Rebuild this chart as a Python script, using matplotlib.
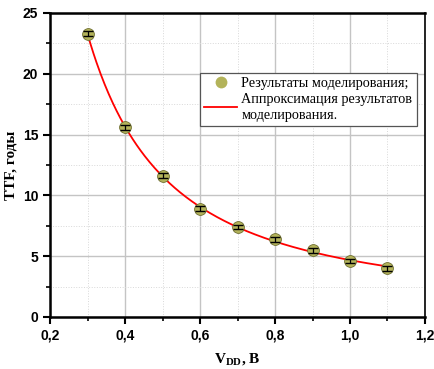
import numpy as np
import matplotlib
matplotlib.use('Agg')
import matplotlib.pyplot as plt
from matplotlib.ticker import MultipleLocator, FuncFormatter

# Simulation results: supply voltage (V) vs time to failure (years)
vdd = [0.3, 0.4, 0.5, 0.6, 0.7, 0.8, 0.9, 1.0, 1.1]
ttf = [23.3, 15.6, 11.6, 8.9, 7.4, 6.4, 5.5, 4.6, 4.0]
ttf_err = [0.2, 0.2, 0.2, 0.2, 0.2, 0.2, 0.2, 0.2, 0.2]

x = np.array(vdd)
y = np.array(ttf)

# Approximation y = c + a*x^(-b): b by grid search, c and a by least squares
best = None
for b in np.linspace(0.3, 3.0, 2000):
    M = np.column_stack([np.ones_like(x), x ** (-b)])
    coef, _, _, _ = np.linalg.lstsq(M, y, rcond=None)
    err = np.sum((M @ coef - y) ** 2)
    if best is None or err < best[0]:
        best = (err, b, coef)
_, b_fit, (c_fit, a_fit) = best
xf = np.linspace(x[0], x[-1], 300)
yf = c_fit + a_fit * xf ** (-b_fit)

fig = plt.figure(figsize=(4.35, 3.69), dpi=100)
ax = fig.add_axes([0.115, 0.141, 0.862, 0.824])

ax.plot(xf, yf, color='red', lw=1.3, zorder=3,
        label='Аппроксимация результатов\nмоделирования.')
ax.plot(x, y, 'o', ms=8.5, color='#b3b35a', mec='#6e6e30', mew=0.6, zorder=5,
        label='Результаты моделирования;')
ax.errorbar(x, y, yerr=ttf_err, fmt='none', ecolor='black', elinewidth=0.9,
            capsize=3.5, capthick=1.0, zorder=6)

ax.set_xlim(0.2, 1.2)
ax.set_ylim(0, 25)
ax.xaxis.set_major_locator(MultipleLocator(0.2))
ax.xaxis.set_minor_locator(MultipleLocator(0.1))
ax.yaxis.set_major_locator(MultipleLocator(5))
ax.yaxis.set_minor_locator(MultipleLocator(2.5))
ax.xaxis.set_major_formatter(FuncFormatter(lambda v, p: f'{v:.1f}'.replace('.', ',')))
ax.yaxis.set_major_formatter(FuncFormatter(lambda v, p: f'{v:.0f}'))

ax.grid(which='major', color='#c4c4c4', lw=1.0)
ax.grid(which='minor', color='#d8d8d8', lw=0.7, ls=':')
ax.set_axisbelow(True)

ax.tick_params(which='major', direction='out', length=5, width=1.5,
               labelsize=10, top=False, right=False)
ax.tick_params(which='minor', direction='out', length=3, width=1.2,
               top=False, right=False)
for lab in ax.get_xticklabels() + ax.get_yticklabels():
    lab.set_fontfamily('Liberation Sans')
    lab.set_fontweight('bold')

for side in ['left', 'bottom', 'top']:
    ax.spines[side].set_linewidth(1.8)
ax.spines['right'].set_linewidth(1.2)

ax.set_xlabel('V$_{\\mathregular{DD}}$, В', fontfamily='Liberation Serif',
              fontweight='bold', fontsize=11, labelpad=6)
ax.set_ylabel('TTF, годы', fontfamily='Liberation Serif',
              fontweight='bold', fontsize=11)
ax.yaxis.set_label_coords(-0.088, 0.5)

handles, labels = ax.get_legend_handles_labels()
order = [1, 0]
leg = ax.legend([handles[i] for i in order], [labels[i] for i in order],
                loc='upper left', bbox_to_anchor=(0.40, 0.803),
                prop={'family': 'Liberation Serif', 'size': 10.3},
                frameon=True, fancybox=False, edgecolor='#555555',
                framealpha=1, handlelength=2.3, handletextpad=0.3,
                borderpad=0.3, labelspacing=0.2, borderaxespad=0)
leg.get_frame().set_linewidth(0.9)
leg.legend_handles[0].set_markeredgewidth(0)
leg.get_texts()[1].set_linespacing(1.3)

fig.savefig('out.png', dpi=100)
